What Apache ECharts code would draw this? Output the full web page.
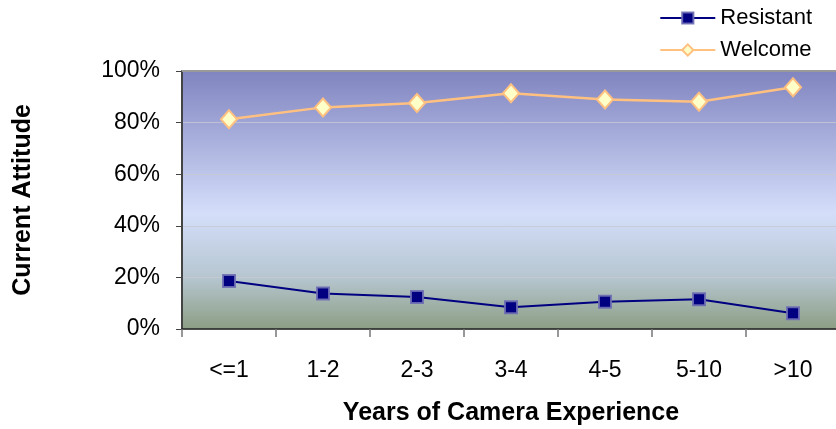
<!DOCTYPE html>
<html><head><meta charset="utf-8">
<script src="https://cdn.jsdelivr.net/npm/echarts@6/dist/echarts.min.js"></script>
<style>html,body{margin:0;padding:0;background:#fff}#c{width:836px;height:429px}</style>
</head><body><div id="c"></div>
<script>
var categories = ['<=1','1-2','2-3','3-4','4-5','5-10','>10'];
var resistant = [18.6, 13.8, 12.4, 8.4, 10.6, 11.5, 6.1];
var welcome = [81.3, 85.9, 87.6, 91.4, 89.0, 88.1, 93.7];
var yTicks = [0, 20, 40, 60, 80, 100];

var chart = echarts.init(document.getElementById('c'));
var font = 'Arial, "Liberation Sans", sans-serif';
chart.setOption({
  animation: false,
  textStyle: {fontFamily: font},
  legend: {
    orient: 'vertical', right: 19, top: 2, itemGap: 10,
    itemWidth: 55, itemHeight: 14,
    textStyle: {fontSize: 22, color: '#000', fontFamily: font},
    data: ['Resistant', 'Welcome']
  },
  grid: {left: 182, right: -4, top: 71, bottom: 100, outerBoundsMode: 'none',
    show: true, borderWidth: 0,
    backgroundColor: new echarts.graphic.LinearGradient(0,0,0,1,[
      {offset:0, color:'#8084c0'},
      {offset:0.55, color:'#d4defa'},
      {offset:0.8, color:'#b6c6d0'},
      {offset:1, color:'#8c9e84'}
    ])},
  xAxis: {
    type: 'category', data: categories, boundaryGap: true,
    name: 'Years of Camera Experience', nameLocation: 'middle', nameGap: 72,
    nameTextStyle: {fontSize: 25, fontWeight: 'bold', color: '#000', fontFamily: font},
    axisLine: {lineStyle: {color: '#222', width: 1.5}},
    axisTick: {show: true, length: 8, lineStyle: {color: '#777', width: 1.5}},
    axisLabel: {fontSize: 23, color: '#000', margin: 30, fontFamily: font}
  },
  yAxis: {
    type: 'value', min: 0, max: 100, interval: 20,
    name: 'Current Attitude', nameLocation: 'middle', nameGap: 146, nameRotate: 90,
    nameTextStyle: {fontSize: 25, fontWeight: 'bold', color: '#000', fontFamily: font},
    axisLine: {show: true, lineStyle: {color: '#444', width: 2}},
    axisTick: {show: true, length: 6, lineStyle: {color: '#444'}},
    axisLabel: {fontSize: 23, color: '#000', margin: 22, fontFamily: font,
      formatter: function(v){ return yTicks.indexOf(v) >= 0 ? v + '%' : ''; }},
    splitLine: {show: true, lineStyle: {color: 'rgba(200,200,210,0.8)', width: 1}}
  },
  series: [
    {name: 'Resistant', type: 'line', data: resistant,
     symbol: 'rect', symbolSize: 12,
     lineStyle: {color: '#000080', width: 2},
     itemStyle: {color: '#000080', borderColor: 'rgba(110,110,180,0.9)', borderWidth: 2}},
    {name: 'Welcome', type: 'line', data: welcome,
     symbol: 'diamond', symbolSize: [16, 18],
     lineStyle: {color: '#ffc080', width: 2.5},
     itemStyle: {color: '#ffffc8', borderColor: '#ffc080', borderWidth: 2}},
    {type: 'line', data: [], markLine: {silent: true, symbol: 'none', label: {show: false},
      lineStyle: {color: '#999', width: 2, type: 'solid'}, data: [{yAxis: 100}]}}
  ]
});
</script></body></html>
